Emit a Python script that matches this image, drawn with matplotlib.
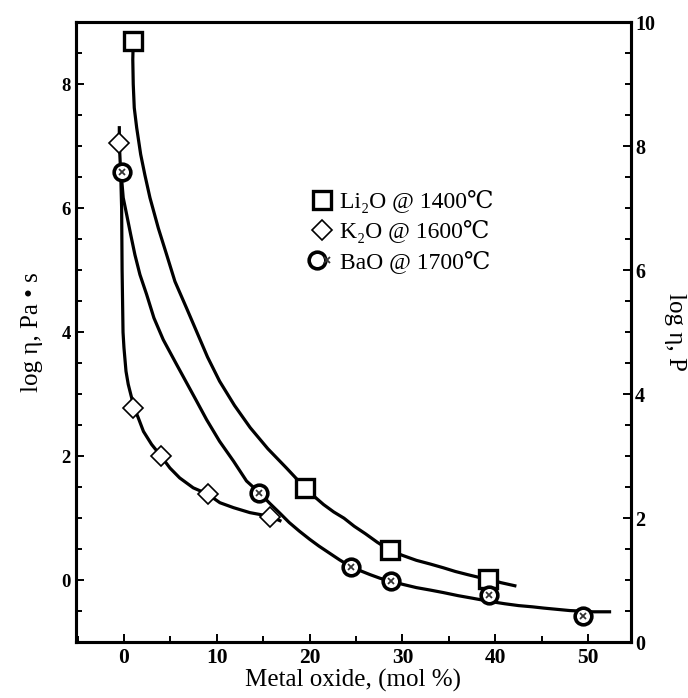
import numpy as np
import matplotlib
matplotlib.use("Agg")
import matplotlib.pyplot as plt
from matplotlib.ticker import MultipleLocator
from matplotlib.legend_handler import HandlerTuple

plt.rcParams['font.family'] = ['Liberation Serif', 'DejaVu Serif', 'DejaVu Sans']

# measured points
li2o_x = [1.0, 19.5, 28.7, 39.2]
li2o_y = [8.7, 1.48, 0.48, 0.02]
k2o_x = [-0.5, 1.0, 4.0, 9.0, 15.7]
k2o_y = [7.05, 2.78, 2.0, 1.39, 1.02]
bao_x = [-0.2, 14.5, 24.4, 28.8, 39.3, 49.4]
bao_y = [6.58, 1.41, 0.22, -0.02, -0.24, -0.58]

# fitted curves
li2o_cx = [1.0, 0.95, 1.0, 1.11, 1.37, 1.8, 2.25, 2.8, 3.7, 4.6, 5.49, 6.74, 7.8,
           9.0, 10.3, 11.9, 13.6, 15.5, 17.5, 18.5, 19.5, 20.5, 21.5, 22.6, 23.7,
           24.8, 26.0, 27.3, 28.7, 30.0, 31.5, 33.0, 34.4, 35.7, 37.0, 38.1, 39.2,
           40.6, 42.1]
li2o_cy = [8.7, 8.4, 8.0, 7.62, 7.3, 6.87, 6.54, 6.17, 5.68, 5.25, 4.82, 4.39, 4.02,
           3.6, 3.21, 2.82, 2.46, 2.12, 1.81, 1.65, 1.49, 1.35, 1.22, 1.1, 1.0,
           0.87, 0.75, 0.61, 0.48, 0.4, 0.32, 0.26, 0.2, 0.14, 0.09, 0.05, 0.02,
           -0.04, -0.09]
k2o_cx = [-0.5, -0.5, -0.35, -0.25, -0.2, -0.1, 0.0, 0.22, 0.46, 0.83, 1.08, 1.54,
          2.1, 2.98, 4.0, 4.95, 6.0, 7.46, 9.0, 10.33, 11.8, 13.56, 15.7, 16.8]
k2o_cy = [7.3, 7.05, 6.56, 6.0, 5.0, 4.0, 3.75, 3.37, 3.16, 2.94, 2.79, 2.62,
          2.4, 2.19, 2.0, 1.81, 1.65, 1.49, 1.39, 1.25, 1.17, 1.09, 1.03, 0.96]
bao_cx = [-0.3, -0.08, 0.29, 0.72, 1.18, 1.72, 2.44, 3.23, 4.23, 5.67, 7.82, 8.9,
          10.3, 11.8, 13.2, 14.6, 15.7, 16.8, 17.8, 18.9, 20.0, 21.0, 22.1, 23.2,
          24.4, 25.5, 26.5, 27.6, 28.8, 30.1, 31.5, 33.0, 34.4, 36.0, 37.5, 39.3,
          41.0, 42.5, 44.0, 45.2, 46.6, 48.0, 49.4, 50.5, 52.3]
bao_cy = [6.56, 6.17, 5.9, 5.58, 5.25, 4.93, 4.61, 4.23, 3.88, 3.48, 2.89, 2.59,
          2.24, 1.92, 1.6, 1.41, 1.24, 1.08, 0.93, 0.79, 0.66, 0.55, 0.44, 0.33,
          0.22, 0.15, 0.09, 0.03, -0.02, -0.07, -0.12, -0.16, -0.2, -0.25, -0.29, -0.34,
          -0.38, -0.41, -0.43, -0.45, -0.47, -0.49, -0.5, -0.51, -0.51]

labels = ['Li\u2082O @ 1400\u2103', 'K\u2082O @ 1600\u2103', 'BaO @ 1700\u2103']

fig = plt.figure(figsize=(6.88, 6.98), dpi=100)
ax = fig.add_axes([0.110, 0.080, 0.807, 0.888])

lw = 2.3
ax.plot(li2o_cx, li2o_cy, color='black', lw=lw, zorder=2, solid_joinstyle='round')
ax.plot(k2o_cx, k2o_cy, color='black', lw=lw, zorder=2, solid_joinstyle='round')
ax.plot(bao_cx, bao_cy, color='black', lw=lw, zorder=2, solid_joinstyle='round')

h1, = ax.plot(li2o_x, li2o_y, 's', ms=13, mfc='white', mec='black', mew=2.4,
              ls='none', zorder=3)
h2, = ax.plot(k2o_x, k2o_y, 'D', ms=10, mfc='white', mec='black', mew=1.2,
              ls='none', zorder=3)
h3a, = ax.plot(bao_x, bao_y, 'o', ms=12, mfc='white', mec='black', mew=2.6,
               ls='none', zorder=3)
h3b, = ax.plot(bao_x, bao_y, 'x', ms=5, mec='#333333', mew=1.3, ls='none', zorder=4)

ax.set_xlim(-5.2, 54.6)
ax.set_ylim(-1.0, 9.0)
ax.xaxis.set_major_locator(MultipleLocator(10))
ax.xaxis.set_minor_locator(MultipleLocator(5))
ax.yaxis.set_major_locator(MultipleLocator(2))
ax.yaxis.set_minor_locator(MultipleLocator(0.5))
ax.tick_params(which='both', direction='in', top=False, right=False, width=1.4)
ax.tick_params(axis='x', labelsize=15.5, pad=4)
ax.tick_params(axis='y', labelsize=13.5)
ax.tick_params(which='major', length=6)
ax.tick_params(which='minor', length=4.5)
for lab in ax.get_xticklabels() + ax.get_yticklabels():
    lab.set_fontweight('bold')
for s in ax.spines.values():
    s.set_linewidth(2.2)

ax.set_xlabel('Metal oxide, (mol %)', fontsize=18, labelpad=1)
ax.set_ylabel('log \u03b7, Pa \u2022 s', fontsize=18, labelpad=13)

ax2 = ax.twinx()
ax2.set_ylim(0, 10)
ax2.yaxis.set_major_locator(MultipleLocator(2))
ax2.yaxis.set_minor_locator(MultipleLocator(0.5))
ax2.tick_params(which='both', direction='in', width=1.4, labelsize=14.5, pad=3)
ax2.tick_params(which='major', length=6)
ax2.tick_params(which='minor', length=4.5)
for lab in ax2.get_yticklabels():
    lab.set_fontweight('bold')
ax2.set_ylabel('log \u03b7, P', fontsize=18, rotation=270, labelpad=22)
for s in ax2.spines.values():
    s.set_linewidth(2.2)

ax.legend([h1, h2, (h3a, h3b)], labels, loc='upper left',
          bbox_to_anchor=(0.405, 0.748), frameon=False, fontsize=17,
          handlelength=0.8, handletextpad=0.35, labelspacing=0.3, borderpad=0,
          handler_map={tuple: HandlerTuple(ndivide=None, pad=0)})

fig.savefig('out.png', dpi=100)
